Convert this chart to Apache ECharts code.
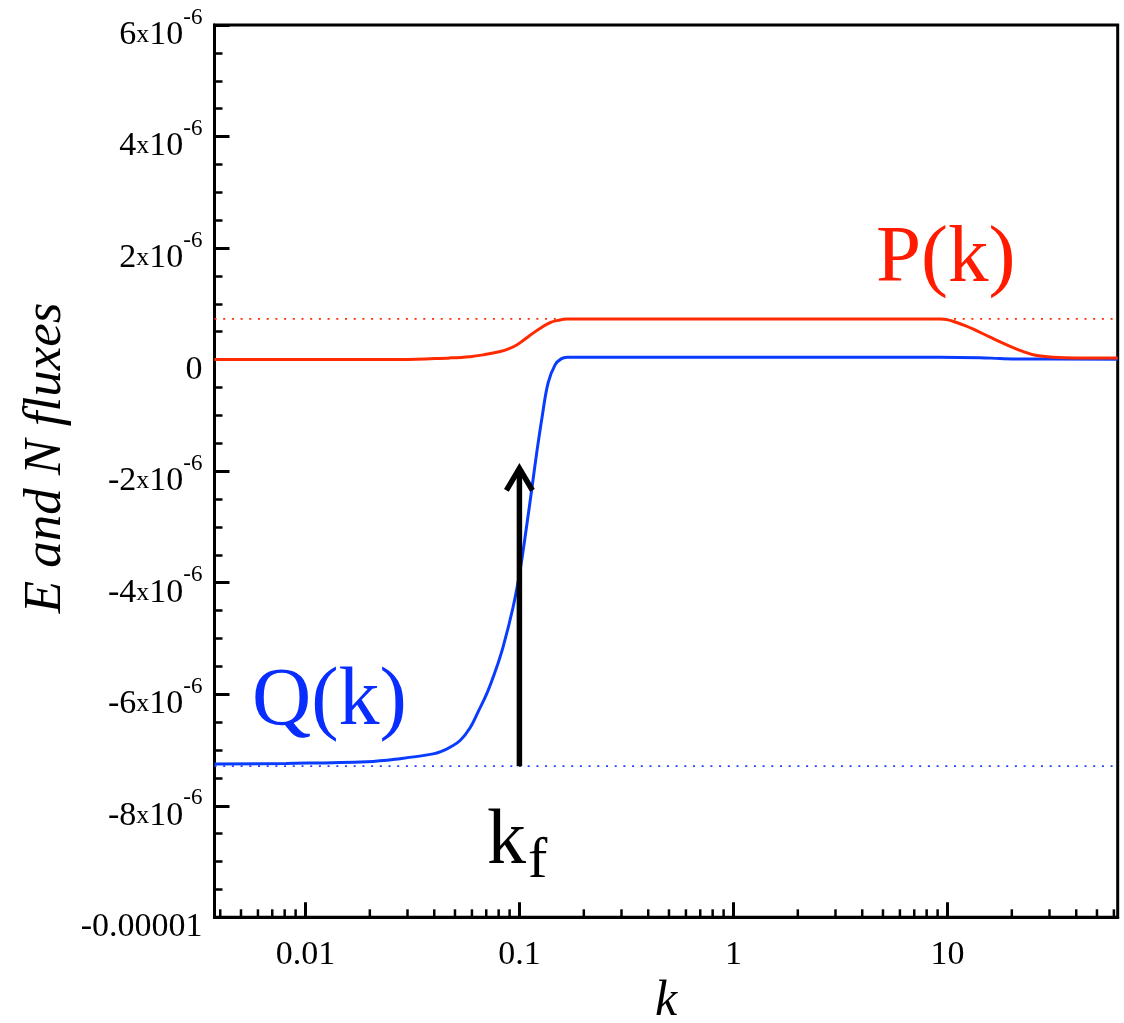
<!DOCTYPE html>
<html>
<head>
<meta charset="utf-8">
<script src="https://cdn.jsdelivr.net/npm/echarts@6/dist/echarts.min.js"></script>
<style>
html,body{margin:0;padding:0;background:#fff;}
#c{width:1124px;height:1023px;}
</style>
</head>
<body>
<div id="c"></div>
<script>
// ---- axis ranges and ticks ----
const kMin = 0.00376, kMax = 62.5;
const yMin = -1e-5, yMax = 6e-6, yStep = 2e-6;
const xMajorVals = [0.01, 0.1, 1, 10];
const xMajorText = ['0.01', '0.1', '1', '10'];
const xMinorTicks = [0.004,0.005,0.006,0.007,0.008,0.009,
  0.02,0.03,0.04,0.05,0.06,0.07,0.08,0.09,
  0.2,0.3,0.4,0.5,0.6,0.7,0.8,0.9,
  2,3,4,5,6,7,8,9,
  20,30,40,50,60];
const yTickVals = [-1e-5, -8e-6, -6e-6, -4e-6, -2e-6, 0, 2e-6, 4e-6, 6e-6];
const yTickText = ['-0.00001', '-8', '-6', '-4', '-2', '0', '2', '4', '6'];

// ---- P(k) flux (red) ----
const pK = [0.00376, 0.00812, 0.0277, 0.04744, 0.05884, 0.06767, 0.08125, 0.08953, 0.09756,
  0.1063, 0.1159, 0.1263, 0.1391, 0.1516, 0.1671, 0.1921, 2.0, 9.245, 10.08, 11.06, 12.1,
  13.23, 15.83, 18.95, 22.65, 26.17, 31.28, 39.5, 62.5];
const pVal = [0.0, 0.0, 0.0, 0.031e-6, 0.053e-6, 0.085e-6, 0.144e-6, 0.196e-6, 0.265e-6,
  0.369e-6, 0.475e-6, 0.570e-6, 0.665e-6, 0.704e-6, 0.726e-6, 0.728e-6, 0.728e-6, 0.728e-6,
  0.713e-6, 0.665e-6, 0.609e-6, 0.546e-6, 0.403e-6, 0.265e-6, 0.144e-6, 0.073e-6, 0.044e-6,
  0.031e-6, 0.031e-6];

// ---- Q(k) flux (blue) ----
const qK = [0.00376, 0.00812, 0.0194, 0.0277, 0.03951, 0.0435, 0.04744, 0.05283, 0.05884,
  0.06412, 0.07065, 0.077, 0.08392, 0.09346, 0.1008, 0.1086, 0.1146, 0.121, 0.1277, 0.1362,
  0.1468, 0.1566, 0.1671, 0.1921, 2.0, 9.245, 14.2, 17.6, 21.9, 62.5];
const qVal = [-7.25e-6, -7.24e-6, -7.21e-6, -7.155e-6, -7.07e-6, -7.02e-6, -6.95e-6, -6.83e-6,
  -6.6e-6, -6.316e-6, -5.975e-6, -5.598e-6, -5.15e-6, -4.436e-6, -3.772e-6, -2.929e-6,
  -2.283e-6, -1.619e-6, -1.027e-6, -0.417e-6, -0.094e-6, 0.013e-6, 0.042e-6, 0.044e-6,
  0.044e-6, 0.044e-6, 0.035e-6, 0.019e-6, 0.010e-6, 0.008e-6];

// ---- reference levels and forcing arrow ----
const pLevel = 0.73e-6;
const qLevel = -7.29e-6;
const kf = 0.1;
const arrowFrom = -7.29e-6;
const arrowTo = -1.95e-6;

const SERIF = "'Liberation Serif', 'Times New Roman', serif";
const RED = '#ff2a00', BLUE = '#0a3cff';

const chart = echarts.init(document.getElementById('c'));

function yFmt(v) {
  let idx = -1;
  for (let i = 0; i < yTickVals.length; i++) {
    if (Math.abs(v - yTickVals[i]) < 1e-9) { idx = i; break; }
  }
  if (idx < 0) return '';
  const t = yTickText[idx];
  if (t === '0' || t.indexOf('.') >= 0) return '{m|' + t + '}';
  return '{m|' + t + '}{x|x}{m|10}{s|-6}';
}
function xFmt(v) {
  for (let i = 0; i < xMajorVals.length; i++) {
    if (Math.abs(v / xMajorVals[i] - 1) < 1e-6) return xMajorText[i];
  }
  return '';
}
function levelLine(level, color) {
  return {
    type: 'line', silent: true, showSymbol: false, z: 2,
    data: [[kMin, level], [kMax, level]],
    lineStyle: { color: color, width: 1.8, type: [2, 6.7] }
  };
}

const option = {
  animation: false,
  backgroundColor: '#fff',
  grid: {
    left: 214.5, right: 6.3, top: 25, bottom: 105.7,
    outerBoundsMode: 'none', containLabel: false,
    show: true, borderColor: '#000', borderWidth: 3, backgroundColor: 'transparent'
  },
  xAxis: {
    type: 'log', logBase: 10, min: kMin, max: kMax,
    name: 'k', nameLocation: 'middle', nameGap: 56,
    nameTextStyle: { fontFamily: SERIF, fontStyle: 'italic', fontSize: 50, color: '#000' },
    axisLine: { show: true, onZero: false, lineStyle: { color: '#000', width: 3 } },
    axisTick: { show: true, inside: true, length: 15, lineStyle: { color: '#000', width: 3 } },
    minorTick: { show: false },
    splitLine: { show: false },
    axisLabel: {
      formatter: xFmt, showMinLabel: false, showMaxLabel: false,
      fontFamily: SERIF, fontSize: 34, color: '#000', margin: 21
    }
  },
  yAxis: {
    type: 'value', min: yMin, max: yMax, interval: yStep,
    axisLine: { show: true, onZero: false, lineStyle: { color: '#000', width: 3 } },
    axisTick: { show: true, inside: true, length: 15, lineStyle: { color: '#000', width: 3 } },
    minorTick: { show: true, splitNumber: 4, length: 8, lineStyle: { color: '#000', width: 2.5 } },
    splitLine: { show: false },
    axisLabel: {
      formatter: yFmt, margin: 12, padding: [20, 0, 0, 0],
      rich: {
        m: { fontFamily: SERIF, fontSize: 34, lineHeight: 58, color: '#000' },
        x: { fontFamily: SERIF, fontSize: 26, lineHeight: 58, color: '#000' },
        s: { fontFamily: SERIF, fontSize: 23, lineHeight: 30, verticalAlign: 'top', color: '#000' }
      }
    }
  },
  graphic: [
    { type: 'text', x: 46, y: 458, rotation: Math.PI / 2,
      style: { text: 'E and N fluxes', fontFamily: SERIF, fontStyle: 'italic', fontSize: 53,
        fill: '#000', align: 'center', verticalAlign: 'middle' } },
    { type: 'text', x: 876, y: 260,
      style: { text: 'P(k)', fontFamily: SERIF, fontSize: 81, fill: '#ff1a00',
        align: 'left', verticalAlign: 'middle' } },
    { type: 'text', x: 252, y: 702,
      style: { text: 'Q(k)', fontFamily: SERIF, fontSize: 82, fill: '#0a2dff',
        align: 'left', verticalAlign: 'middle' } },
    { type: 'text', x: 487, y: 843,
      style: { text: 'k', fontFamily: SERIF, fontSize: 78, fill: '#000',
        align: 'left', verticalAlign: 'middle' } },
    { type: 'text', x: 528, y: 862,
      style: { text: 'f', fontFamily: SERIF, fontSize: 58, fill: '#000',
        align: 'left', verticalAlign: 'middle' } }
  ],
  series: [
    {
      type: 'custom', name: 'minorTicks', silent: true, clip: false, z: 5,
      data: xMinorTicks.map(v => [v, yMin]),
      encode: { x: 0, y: 1 },
      renderItem: function (params, api) {
        const p = api.coord([api.value(0), api.value(1)]);
        return { type: 'line', shape: { x1: p[0], y1: p[1], x2: p[0], y2: p[1] - 8 },
          style: { stroke: '#000', lineWidth: 2.5 } };
      }
    },
    levelLine(qLevel, '#2244ff'),
    levelLine(pLevel, '#ff2a00'),
    {
      type: 'line', name: 'Q', data: qK.map((k, i) => [k, qVal[i]]),
      showSymbol: false, smooth: 0.4,
      lineStyle: { color: BLUE, width: 3 }, z: 3
    },
    {
      type: 'line', name: 'P', data: pK.map((k, i) => [k, pVal[i]]),
      showSymbol: false, smooth: 0.4,
      lineStyle: { color: RED, width: 3 }, z: 4
    },
    {
      type: 'custom', name: 'arrow', silent: true, z: 6,
      data: [[kf, arrowFrom, arrowTo]],
      encode: { x: 0, y: [1, 2] },
      renderItem: function (params, api) {
        const b = api.coord([api.value(0), api.value(1)]);
        const t = api.coord([api.value(0), api.value(2)]);
        return {
          type: 'group',
          children: [
            { type: 'line', shape: { x1: b[0], y1: b[1], x2: t[0], y2: t[1] + 3 },
              style: { stroke: '#000', lineWidth: 5.5 } },
            { type: 'polyline', shape: { points: [[t[0] - 13, t[1] + 22], [t[0], t[1]], [t[0] + 13, t[1] + 22]] },
              style: { stroke: '#000', lineWidth: 5.5, fill: null, lineJoin: 'miter' } }
          ]
        };
      }
    }
  ]
};
chart.setOption(option);
</script>
</body>
</html>
